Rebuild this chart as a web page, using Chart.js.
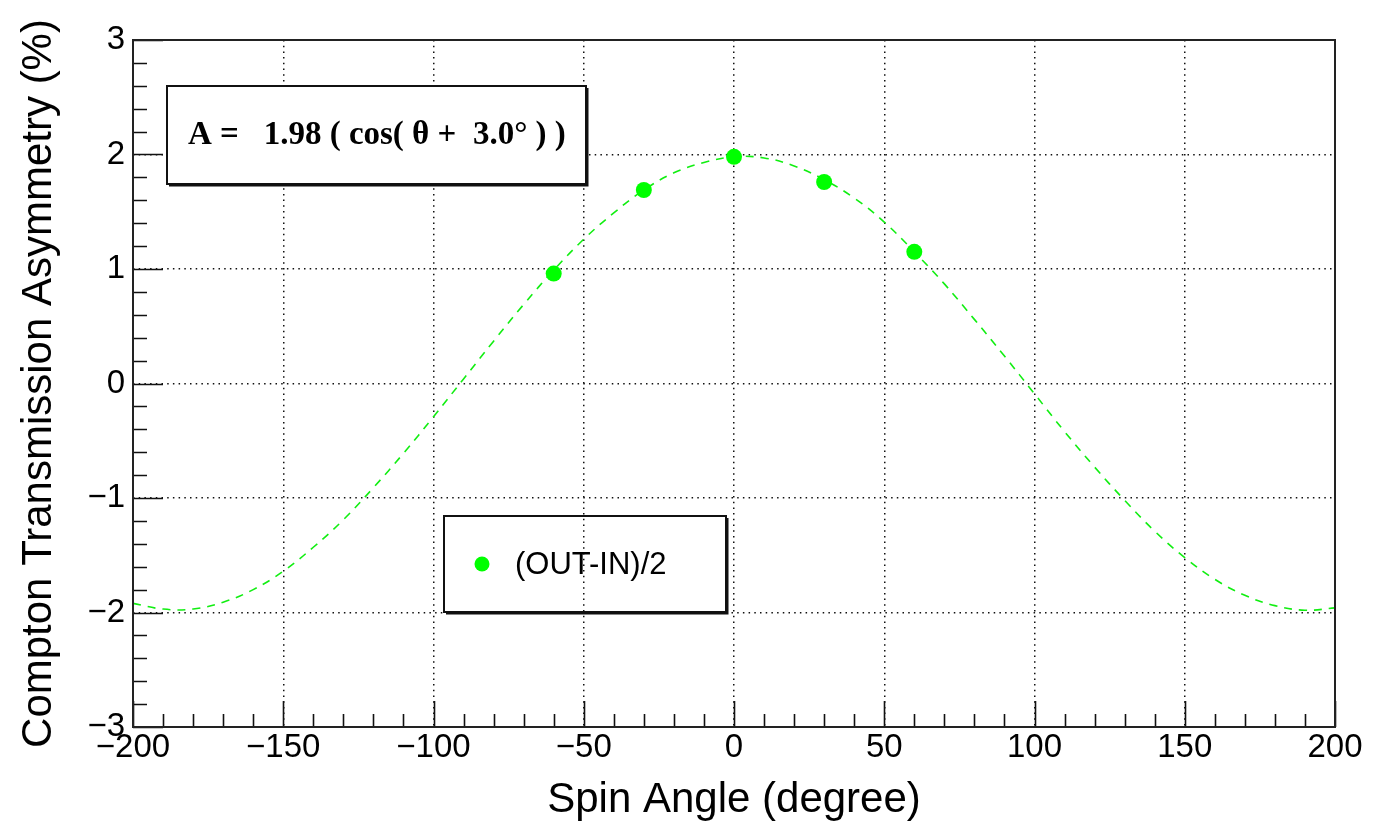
<!DOCTYPE html>
<html>
<head>
<meta charset="utf-8">
<script src="https://cdn.jsdelivr.net/npm/chart.js@4.4.1/dist/chart.umd.min.js"></script>
<style>
  html, body { margin: 0; padding: 0; background: #fff; }
  canvas { display: block; }
</style>
</head>
<body>
<canvas id="asymChart" width="1383" height="828"></canvas>
<script>
// measured points
const spinAngles = [-60, -30, 0, 30, 60]
const asymValues = [0.96, 1.69, 1.98, 1.76, 1.15]

// fitted curve, sampled every 10 degrees
const fitAngles = [-200, -190, -180, -170, -160, -150, -140, -130, -120, -110, -100,
                   -90, -80, -70, -60, -50, -40, -30, -20, -10, 0,
                   10, 20, 30, 40, 50, 60, 70, 80, 90, 100,
                   110, 120, 130, 140, 150, 160, 170, 180, 190, 200]
const fitValues = [-1.92, -1.97, -1.97, -1.91, -1.80, -1.64, -1.43, -1.19, -0.91, -0.61, -0.29,
                   0.04, 0.37, 0.69, 0.99, 1.26, 1.49, 1.69, 1.84, 1.93, 1.98,
                   1.97, 1.90, 1.78, 1.62, 1.41, 1.15, 0.87, 0.56, 0.24, -0.09,
                   -0.42, -0.73, -1.02, -1.29, -1.52, -1.71, -1.85, -1.94, -1.98, -1.96]

const fitText = 'A =   1.98 ( cos( \u03b8 +  3.0\u00b0 ) )'
const legendText = '(OUT-IN)/2'

const green = '#00ff00'
Chart.defaults.font.family = "'Liberation Sans', Arial, sans-serif"
Chart.defaults.color = '#000'

const minusSign = v => v < 0 ? '\u2212' + Math.abs(v) : '' + v

// inner ticks, frame, fit box and legend box (ROOT style)
const rootFrame = {
    id: 'rootFrame',
    afterDatasetsDraw(chart) {
        const {ctx, chartArea: a, scales: {x, y}} = chart
        ctx.save()
        ctx.strokeStyle = '#111'
        ctx.lineWidth = 1.6
        ctx.beginPath()
        for (let i = -20; i <= 20; i++) {
            const px = Math.round(x.getPixelForValue(i * 10)) + 0.5
            const len = i % 5 == 0 ? 26 : 13
            ctx.moveTo(px, a.bottom)
            ctx.lineTo(px, a.bottom - len)
        }
        for (let i = -15; i <= 15; i++) {
            const py = Math.round(y.getPixelForValue(i / 5)) + 0.5
            const len = i % 5 == 0 ? 30 : 14
            ctx.moveTo(a.left, py)
            ctx.lineTo(a.left + len, py)
        }
        ctx.stroke()

        ctx.strokeStyle = '#222'
        ctx.lineWidth = 2
        ctx.strokeRect(a.left, a.top, a.right - a.left, a.bottom - a.top)

        // fit result box
        ctx.fillStyle = '#fff'
        ctx.fillRect(167, 86, 419, 98)
        ctx.strokeStyle = '#111'
        ctx.lineWidth = 2
        ctx.strokeRect(167, 86, 419, 98)
        ctx.beginPath()
        ctx.moveTo(169, 185.5)
        ctx.lineTo(587.5, 185.5)
        ctx.lineTo(587.5, 88)
        ctx.stroke()
        ctx.fillStyle = '#000'
        ctx.font = "bold 33px 'Liberation Serif', 'Times New Roman', serif"
        ctx.textBaseline = 'alphabetic'
        ctx.textAlign = 'left'
        ctx.fillText(fitText, 188, 144)

        // legend box
        ctx.lineWidth = 2
        ctx.strokeRect(444, 516, 282, 96)
        ctx.beginPath()
        ctx.moveTo(446, 613.5)
        ctx.lineTo(727.5, 613.5)
        ctx.lineTo(727.5, 518)
        ctx.stroke()
        ctx.fillStyle = chart.data.datasets[0].backgroundColor
        ctx.beginPath()
        ctx.arc(482, 564, 7.5, 0, Math.PI * 2)
        ctx.fill()
        ctx.fillStyle = '#000'
        ctx.font = "31px 'Liberation Sans', Arial, sans-serif"
        ctx.fillText(chart.data.datasets[0].label, 515, 574)
        ctx.restore()
    }
}

const ctx = document.getElementById('asymChart')
const myChart = new Chart(ctx, {
    type: 'scatter',
    data: {
        datasets: [
            {
                label: legendText,
                data: spinAngles.map((a, i) => ({x: a, y: asymValues[i]})),
                backgroundColor: green,
                borderWidth: 0,
                pointRadius: 8,
                pointHoverRadius: 8
            },
            {
                label: 'fit',
                type: 'line',
                data: fitAngles.map((a, i) => ({x: a, y: fitValues[i]})),
                borderColor: '#11ee11',
                borderWidth: 1.6,
                borderDash: [8, 7],
                pointRadius: 0,
                tension: 0.4,
                fill: false
            }
        ]
    },
    options: {
        responsive: false,
        animation: false,
        events: [],
        layout: { padding: { top: 40, right: 48, left: 0, bottom: 0 } },
        plugins: {
            legend: { display: false },
            tooltip: { enabled: false }
        },
        scales: {
            x: {
                type: 'linear',
                min: -200,
                max: 200,
                afterFit: s => { s.height = 101 },
                ticks: {
                    stepSize: 50,
                    autoSkip: false,
                    maxRotation: 0,
                    padding: 1,
                    font: { size: 33 },
                    callback: minusSign
                },
                grid: { color: '#111', lineWidth: 1.5, drawTicks: false },
                border: { display: false, dash: [1.5, 4.2] },
                title: {
                    display: true,
                    text: 'Spin Angle (degree)',
                    font: { size: 42 },
                    padding: { top: 0, bottom: 2 }
                }
            },
            y: {
                type: 'linear',
                min: -3,
                max: 3,
                afterFit: s => { s.width = 133 },
                ticks: {
                    stepSize: 1,
                    autoSkip: false,
                    padding: 8,
                    font: { size: 33 },
                    callback: minusSign
                },
                grid: { color: '#111', lineWidth: 1.5, drawTicks: false },
                border: { display: false, dash: [1.5, 4.2] },
                title: {
                    display: true,
                    text: 'Compton Transmission Asymmetry (%)',
                    font: { size: 42 },
                    padding: { top: 14, bottom: 0 }
                }
            }
        }
    },
    plugins: [rootFrame]
})
</script>
</body>
</html>
